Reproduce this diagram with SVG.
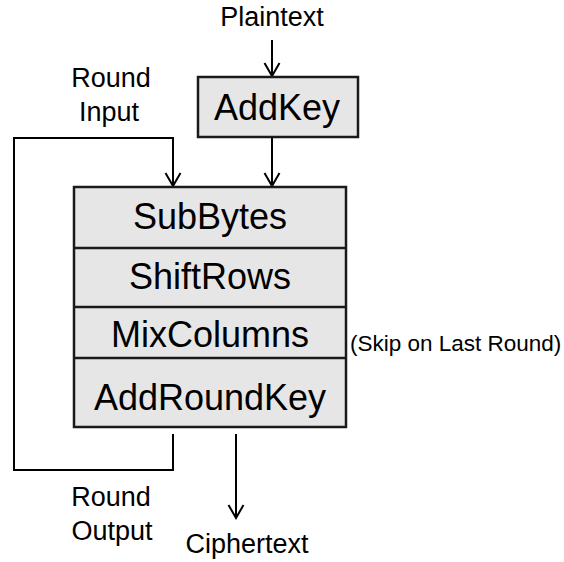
<svg xmlns="http://www.w3.org/2000/svg" width="564" height="562" viewBox="0 0 564 562">
  <style>
    .box { fill: #e6e6e6; stroke: #1a1a1a; stroke-width: 2.5; }
    .div { stroke: #1a1a1a; stroke-width: 2.5; }
    .wire { fill: none; stroke: #000; stroke-width: 2; }
    .big { font-family: "Liberation Sans", Arial, sans-serif; font-size: 36px; fill: #000; text-anchor: middle; }
    .lbl { font-family: "Liberation Sans", Arial, sans-serif; font-size: 27px; fill: #000; text-anchor: middle; }
    .note { font-family: "Liberation Sans", Arial, sans-serif; font-size: 22.5px; fill: #000; }
  </style>
  <defs>
    <marker id="open" markerUnits="userSpaceOnUse" markerWidth="20" markerHeight="20" viewBox="-14 -10 16 20" refX="0" refY="0" orient="auto">
      <path d="M-13,-7.5 L0,0 L-13,7.5" fill="none" stroke="#000" stroke-width="2"/>
    </marker>
  </defs>

  <!-- connectors -->
  <g id="connectors">
    <line class="wire" x1="272" y1="40" x2="272" y2="76" marker-end="url(#open)"/>
    <line class="wire" x1="272" y1="138" x2="272" y2="186" marker-end="url(#open)"/>
    <polyline class="wire" points="173,434 173,470 14,470 14,138 173,138 173,186" marker-end="url(#open)"/>
    <line class="wire" x1="236" y1="434" x2="236" y2="518" marker-end="url(#open)"/>
  </g>

  <!-- labels -->
  <g id="labels">
    <text class="lbl" x="272" y="26">Plaintext</text>
    <text class="lbl" x="111" y="87">Round</text>
    <text class="lbl" x="109" y="121">Input</text>
    <text class="lbl" x="111" y="506">Round</text>
    <text class="lbl" x="112" y="540">Output</text>
    <text class="lbl" x="247" y="553">Ciphertext</text>
    <text class="note" x="350" y="351">(Skip on Last Round)</text>
  </g>

  <!-- initial key addition -->
  <g id="addkey">
    <rect class="box" x="198" y="77" width="160" height="60"/>
    <text class="big" x="277" y="120">AddKey</text>
  </g>

  <!-- round function stack -->
  <g id="round">
    <rect class="box" x="74" y="187" width="272" height="240"/>
    <line class="div" x1="74" y1="248" x2="346" y2="248"/>
    <line class="div" x1="74" y1="307" x2="346" y2="307"/>
    <line class="div" x1="74" y1="358" x2="346" y2="358"/>
    <g id="subbytes"><text class="big" x="210" y="229">SubBytes</text></g>
    <g id="shiftrows"><text class="big" x="210" y="289">ShiftRows</text></g>
    <g id="mixcolumns"><text class="big" x="210" y="347">MixColumns</text></g>
    <g id="addroundkey"><text class="big" x="210" y="410">AddRoundKey</text></g>
  </g>
</svg>
